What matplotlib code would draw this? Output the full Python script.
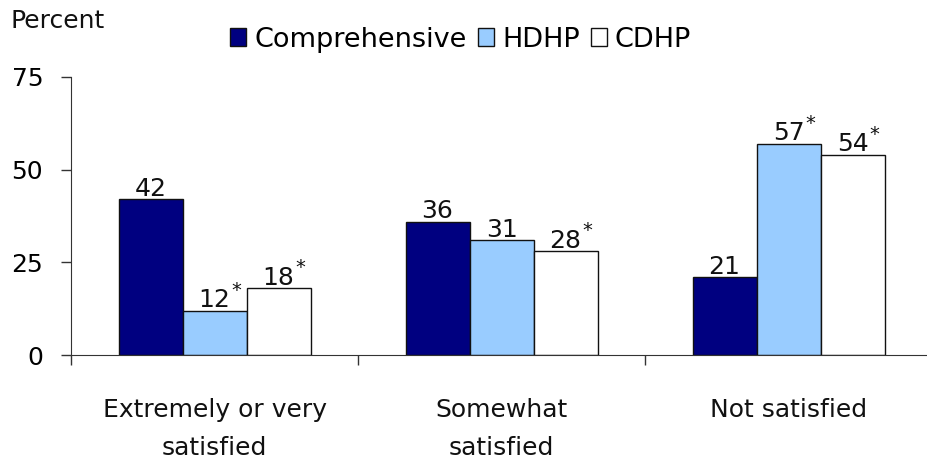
import numpy as np
import matplotlib.pyplot as plt
from matplotlib.patches import Patch

categories = ['Extremely or very\nsatisfied', 'Somewhat\nsatisfied', 'Not satisfied']
series = ['Comprehensive', 'HDHP', 'CDHP']
comprehensive = [42, 36, 21]
hdhp = [12, 31, 57]
cdhp = [18, 28, 54]
starred = {'Comprehensive': [False, False, False],
           'HDHP': [True, False, True],
           'CDHP': [True, True, True]}
colors = ['#000080', '#99ccff', '#ffffff']

fig = plt.figure(figsize=(9.27, 4.66), dpi=100)
ax = fig.add_axes([0.0766, 0.238, 0.9288, 0.597])

x = np.arange(len(categories))
w = 0.223
values = [comprehensive, hdhp, cdhp]
for i, (name, vals) in enumerate(zip(series, values)):
    pos = x + (i - 1) * w
    ax.bar(pos, vals, width=w, color=colors[i], edgecolor='#111111', linewidth=1)
    for p, v, s in zip(pos, vals, starred[name]):
        ax.annotate(str(v), (p, v), xytext=(0, 2.5), textcoords='offset points',
                    ha='center', va='baseline', fontsize=18, color='#111111')
        if s:
            ax.annotate('*', (p, v), xytext=(12.5, 21.5), textcoords='offset points',
                        ha='left', va='top', fontsize=14, color='#111111')

ax.set_xlim(-0.5, 2.5)
ax.set_ylim(0, 75)
ax.set_yticks([0, 25, 50, 75])
ax.set_xticks([-0.5, 0.5, 1.5])
ax.set_xticklabels([])
ax.tick_params(axis='y', labelsize=18, length=7, width=1, color='#333333', pad=13)
ax.tick_params(axis='x', length=7, width=1, color='#333333')
for sp in ['top', 'right']:
    ax.spines[sp].set_visible(False)
for sp in ['left', 'bottom']:
    ax.spines[sp].set_color('#333333')

for xi, lab in zip(x, categories):
    ax.text(xi, -11.5, lab, ha='center', va='top', fontsize=18, linespacing=1.75,
            color='#111111')

fig.text(0.011, 0.955, 'Percent', fontsize=18, ha='left', va='center', color='#111111')

handles = [Patch(facecolor=c, edgecolor='#111111', label=n) for c, n in zip(colors, series)]
fig.legend(handles=handles, loc='center', bbox_to_anchor=(0.497, 0.915), ncol=3, frameon=False,
           fontsize=19.5, handlelength=0.6, handleheight=0.6, handletextpad=0.3, columnspacing=0.4)

fig.savefig('out.png', dpi=100)
